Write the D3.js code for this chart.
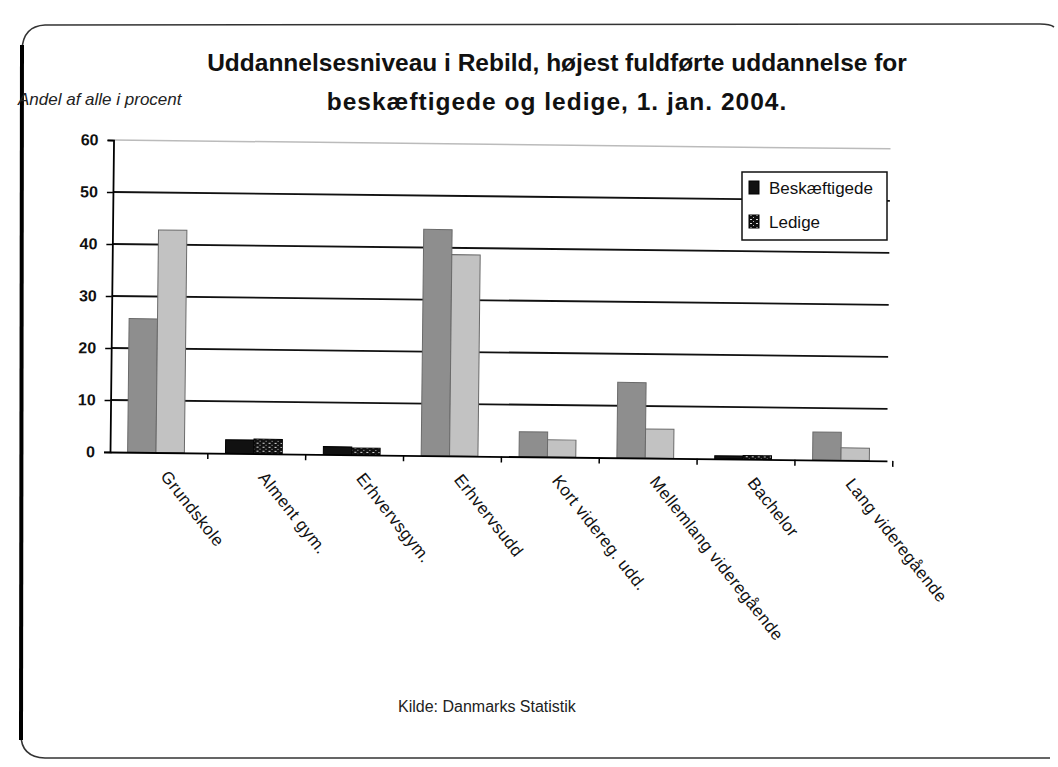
<!DOCTYPE html>
<html>
<head>
<meta charset="utf-8">
<script src="https://cdn.jsdelivr.net/npm/d3@7"></script>
<style>
  body { margin: 0; background: #fff; }
  svg { display: block; font-family: Arial, "Liberation Sans", sans-serif; }
</style>
</head>
<body>
<svg id="chart" width="1058" height="767"></svg>
<script>
// --- data ---
const categories = ["Grundskole", "Alment gym.", "Erhvervsgym.", "Erhvervsudd",
    "Kort videreg. udd.", "Mellemlang videregående", "Bachelor", "Lang videregående"];
const seriesNames = ["Beskæftigede", "Ledige"];
const beskaeftigede = [25.7, 2.6, 1.5, 43.5, 4.8, 14.5, 0.6, 5.4];
const ledige = [42.8, 2.8, 1.3, 38.7, 3.3, 5.6, 0.7, 2.4];
const yTicks = [0, 10, 20, 30, 40, 50, 60];

// categories whose bars came out black in the scan
const darkCats = ["Alment gym.", "Erhvervsgym.", "Bachelor"];

const svg = d3.select("#chart");

// speckled pattern for the dark "Ledige" bars
const defs = svg.append("defs");
const pat = defs.append("pattern").attr("id", "speckle")
    .attr("width", 6).attr("height", 4).attr("patternUnits", "userSpaceOnUse");
pat.append("rect").attr("width", 6).attr("height", 4).attr("fill", "#111");
pat.append("rect").attr("x", 1).attr("y", 1).attr("width", 2).attr("height", 1).attr("fill", "#ddd");
pat.append("rect").attr("x", 4).attr("y", 3).attr("width", 1).attr("height", 1).attr("fill", "#bbb");

// page frame (scanned slide border)
svg.append("path")
    .attr("d", "M1054,27 Q1050,24 1040,24 L45,25 Q23,26 22,50 L21,735 Q21,757 45,758 L1050,758")
    .attr("fill", "none").attr("stroke", "#333").attr("stroke-width", 1.6);
svg.append("line").attr("x1", 22).attr("y1", 45).attr("x2", 21).attr("y2", 740)
    .attr("stroke", "#000").attr("stroke-width", 4);

// titles
const title = svg.append("text").attr("text-anchor", "middle")
    .attr("font-weight", "bold").attr("font-size", 24.5).attr("fill", "#111");
title.append("tspan").attr("x", 557).attr("y", 71)
    .text("Uddannelsesniveau i Rebild, højest fuldførte uddannelse for");
title.append("tspan").attr("x", 557).attr("y", 110).attr("letter-spacing", 1)
    .text("beskæftigede og ledige, 1. jan. 2004.");

svg.append("text").attr("x", 18).attr("y", 105)
    .attr("font-style", "italic").attr("font-size", 17).attr("fill", "#222")
    .text("Andel af alle i procent");

svg.append("text").attr("x", 398).attr("y", 712)
    .attr("font-size", 16).attr("fill", "#222")
    .text("Kilde: Danmarks Statistik");

// --- plot area, slightly tilted like the scan ---
const x0 = 110, x1 = 887, yBase = 452, yTop = 140;
const plot = svg.append("g")
    .attr("transform", `rotate(0.65, ${x0}, ${yBase})`);

const x = d3.scaleBand().domain(categories).range([x0, x1])
    .paddingInner(0.42).paddingOuter(0.18);
const xs = d3.scaleBand().domain(seriesNames).range([0, x.bandwidth()]);
const y = d3.scaleLinear().domain([0, 60]).range([yBase, yTop]);

// gridlines
plot.selectAll("line.grid").data(yTicks.filter(d => d > 0)).join("line")
    .attr("class", "grid")
    .attr("x1", x0).attr("x2", x1)
    .attr("y1", d => y(d)).attr("y2", d => y(d))
    .attr("stroke", d => d === 60 ? "#bbb" : "#111")
    .attr("stroke-width", d => d === 60 ? 1.5 : 1.8);

// bars
const rows = categories.map((c, i) => ({ cat: c, vals: [beskaeftigede[i], ledige[i]] }));
const groups = plot.selectAll("g.cat").data(rows).join("g")
    .attr("class", "cat")
    .attr("transform", d => `translate(${x(d.cat)},0)`);

groups.selectAll("rect").data(d => d.vals.map((v, j) => ({ cat: d.cat, s: seriesNames[j], v })))
    .join("rect")
    .attr("x", d => xs(d.s))
    .attr("y", d => y(d.v))
    .attr("width", xs.bandwidth())
    .attr("height", d => y(0) - y(d.v))
    .attr("fill", d => darkCats.includes(d.cat)
        ? (d.s === "Ledige" ? "url(#speckle)" : "#111")
        : (d.s === "Ledige" ? "#c2c2c2" : "#8e8e8e"))
    .attr("stroke", d => darkCats.includes(d.cat) ? "#000" : "#6a6a6a")
    .attr("stroke-width", 1);

// axes
const yAxis = d3.axisLeft(y).tickValues(yTicks).tickSize(6).tickPadding(9);
const yg = plot.append("g").attr("transform", `translate(${x0},0)`).call(yAxis);
yg.select(".domain").attr("stroke", "#000").attr("stroke-width", 1.8);
yg.selectAll(".tick line").attr("stroke", "#000").attr("stroke-width", 1.5);
yg.selectAll(".tick text").attr("font-size", 16).attr("font-weight", "bold")
    .attr("font-family", "Arial, 'Liberation Sans', sans-serif").attr("fill", "#111");

const xAxis = d3.axisBottom(x).tickSize(0).tickFormat("");
const xg = plot.append("g").attr("transform", `translate(0,${yBase})`).call(xAxis);
xg.select(".domain").attr("stroke", "#000").attr("stroke-width", 1.8);

// category separators below the baseline
const step = x.step();
plot.selectAll("line.sep").data(d3.range(1, categories.length + 1)).join("line")
    .attr("class", "sep")
    .attr("x1", d => x0 + d * step).attr("x2", d => x0 + d * step)
    .attr("y1", yBase).attr("y2", yBase + 6)
    .attr("stroke", "#000").attr("stroke-width", 1.5);

// slanted category labels
plot.selectAll("text.cat").data(categories).join("text")
    .attr("class", "cat")
    .attr("transform", d => `translate(${x(d) + x.bandwidth() / 2 + 4},${yBase + 24}) rotate(51)`)
    .attr("font-size", 17).attr("letter-spacing", 0.4).attr("fill", "#111")
    .text(d => d);

// legend
const lg = svg.append("g").attr("transform", "translate(742,172)");
lg.append("rect").attr("width", 145).attr("height", 68)
    .attr("fill", "#fff").attr("stroke", "#111").attr("stroke-width", 1.5);
const li = lg.selectAll("g").data(seriesNames).join("g")
    .attr("transform", (d, i) => `translate(7,${16 + i * 34})`);
li.append("rect").attr("y", -7).attr("width", 10).attr("height", 13)
    .attr("fill", (d, i) => i === 0 ? "#111" : "url(#speckle)").attr("stroke", "#000");
li.append("text").attr("x", 20).attr("y", 6)
    .attr("font-size", 17).attr("fill", "#111").text(d => d);
</script>
</body>
</html>
